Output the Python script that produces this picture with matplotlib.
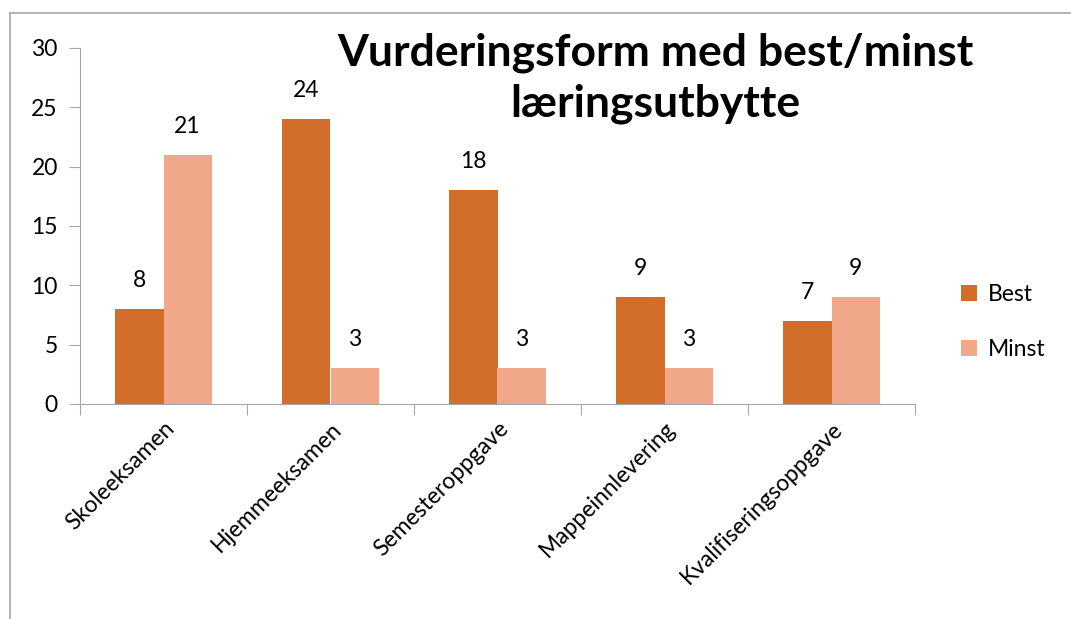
import numpy as np
import matplotlib.pyplot as plt
from matplotlib.lines import Line2D

plt.rcParams['font.family'] = ['Lato', 'DejaVu Sans']

categories = ['Skoleeksamen', 'Hjemmeeksamen', 'Semesteroppgave',
              'Mappeinnlevering', 'Kvalifiseringsoppgave']
best = [8, 24, 18, 9, 7]
minst = [21, 3, 3, 3, 9]
title = 'Vurderingsform med best/minst\nlæringsutbytte'

c_best = '#D26D2A'
c_minst = '#F1A78A'
grey = '#A6A6A6'

fig = plt.figure(figsize=(10.71, 6.19), dpi=100)
ax = fig.add_axes([80 / 1071, 1 - 404 / 619, 835 / 1071, 356 / 619])

x = np.arange(len(categories))
w = 0.2875
b1 = ax.bar(x - w / 2, best, w, color=c_best, label='Best')
b2 = ax.bar(x + w / 2, minst, w, color=c_minst, label='Minst')

for bars in (b1, b2):
    for r in bars:
        ax.annotate(f'{int(r.get_height())}', (r.get_x() + r.get_width() / 2, r.get_height()),
                    xytext=(0, 13), textcoords='offset points', ha='center', va='bottom',
                    fontsize=16.5)

ax.set_xlim(-0.5, len(categories) - 0.5)
ax.set_ylim(0, 30)
ax.set_yticks(range(0, 31, 5))
ax.set_xticks(np.arange(-0.5, len(categories), 1.0))
ax.set_xticklabels([])
ax.set_xticks(x, minor=True)
ax.set_xticklabels(categories, minor=True, rotation=45, ha='right',
                   rotation_mode='anchor', fontsize=16.5)
ax.tick_params(axis='x', which='minor', length=0, pad=10)
ax.tick_params(axis='x', which='major', length=8, color=grey)
ax.tick_params(axis='y', length=8, color=grey, labelsize=16.5, pad=8)

for s in ('top', 'right'):
    ax.spines[s].set_visible(False)
for s in ('left', 'bottom'):
    ax.spines[s].set_color(grey)

fig.text(655 / 1071, 1 - 78 / 619, title, ha='center', va='center',
         fontsize=32, fontweight='bold', linespacing=1.32)

ax.legend(loc='center left', bbox_to_anchor=(1.03, 0.23), frameon=False,
          fontsize=16.5, handlelength=0.7, handleheight=0.7, labelspacing=1.5,
          handletextpad=0.5)

# outer chart border (cropped on right and bottom)
fig.add_artist(Line2D([10 / 1071, 10 / 1071], [0, 1 - 13 / 619], color=grey, lw=1.2,
                      transform=fig.transFigure))
fig.add_artist(Line2D([10 / 1071, 1], [1 - 13 / 619, 1 - 13 / 619], color=grey, lw=1.2,
                      transform=fig.transFigure))

fig.savefig('out.png', dpi=100)
